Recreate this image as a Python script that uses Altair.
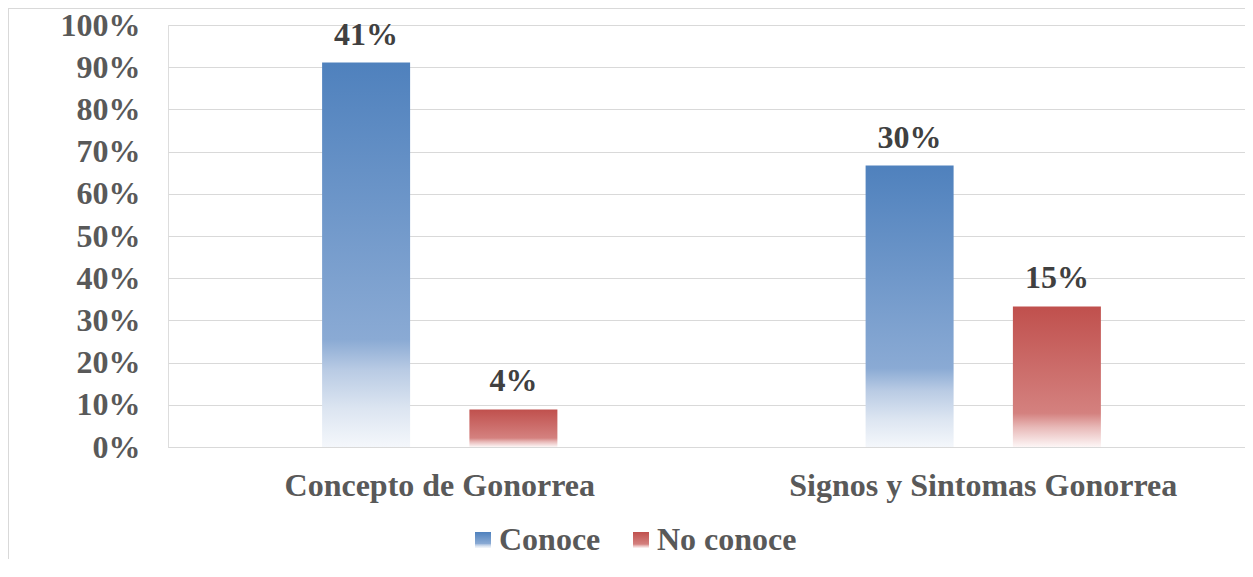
import altair as alt
import pandas as pd

# ---- data ----
categories = ["Concepto de Gonorrea", "Signos y Sintomas Gonorrea"]
series = ["Conoce", "No conoce"]
conoce_share = [0.911, 0.667]
no_conoce_share = [0.089, 0.333]
conoce_labels = ["41%", "30%"]
no_conoce_labels = ["4%", "15%"]
y_ticks = [0, 0.1, 0.2, 0.3, 0.4, 0.5, 0.6, 0.7, 0.8, 0.9, 1.0]

rows = []
for i, c in enumerate(categories):
    rows.append({"categoria": c, "serie": series[0], "valor": conoce_share[i], "etiqueta": conoce_labels[i]})
    rows.append({"categoria": c, "serie": series[1], "valor": no_conoce_share[i], "etiqueta": no_conoce_labels[i]})
df = pd.DataFrame(rows)

FONT = "Liberation Serif"
FS = 32
GRID = "#D9D9D9"


def grad_expr(stops):
    s = ", ".join("{offset: %s, color: '%s'}" % (o, c) for o, c in stops)
    return "{gradient: 'linear', x1: 0, y1: 0, x2: 0, y2: 1, stops: [%s]}" % s


blue = grad_expr([(0, "#4F81BD"), (0.72, "#8AAAD4"), (0.8, "#B9CBE4"), (0.9, "#DCE5F1"), (1, "#F4F7FB")])
red = grad_expr([(0, "#C0504D"), (0.76, "#D4817F"), (0.86, "#E8B9B8"), (1, "#FDF6F6")])

x = alt.X(
    "categoria:N",
    sort=categories,
    scale=alt.Scale(paddingInner=0, paddingOuter=0, range=[0, 1087]),
    axis=alt.Axis(
        title=None, labelAngle=0, labelFont=FONT, labelFontSize=FS, labelFontWeight="bold",
        labelColor="#595959", labelPadding=23, ticks=False, domainColor=GRID, labelLimit=0,
        grid=False,
    ),
)
xo = alt.XOffset("serie:N", sort=series, scale=alt.Scale(paddingInner=0, paddingOuter=0.845))
y = alt.Y(
    "valor:Q",
    scale=alt.Scale(domain=[0, 1]),
    axis=alt.Axis(
        title=None, format=".0%", values=y_ticks, labelFont=FONT, labelFontSize=FS,
        labelFontWeight="bold", labelColor="#595959", labelPadding=28, ticks=False,
        domain=False, grid=True, gridColor=GRID, gridWidth=1,
    ),
)

bars = alt.Chart(df).mark_bar(width=88).encode(
    x=x,
    xOffset=xo,
    y=y,
    color=alt.Color(
        "serie:N",
        sort=series,
        scale=alt.Scale(domain=series, range=[alt.ExprRef(expr=blue), alt.ExprRef(expr=red)]),
        legend=alt.Legend(
            title=None, orient="none", legendX=299, legendY=499, direction="horizontal",
            symbolType="square", symbolSize=256, symbolStrokeWidth=0,
            labelFont=FONT, labelFontSize=FS, labelFontWeight="bold", labelColor="#595959",
            labelOffset=0, columnPadding=24, labelLimit=0,
        ),
    ),
)

text = alt.Chart(df).mark_text(
    font=FONT, fontSize=FS, fontWeight="bold", color="#404040", baseline="alphabetic", dy=-18
).encode(x=x, xOffset=xo, y=y, text="etiqueta:N")

frame_df = pd.DataFrame({"k": [0]})
frame_left = alt.Chart(frame_df).mark_rule(color=GRID, strokeWidth=1).encode(
    x=alt.value(-159.5), y=alt.value(-17), y2=alt.value(540)
)
frame_top = alt.Chart(frame_df).mark_rule(color=GRID, strokeWidth=1).encode(
    x=alt.value(-160), x2=alt.value(1085), y=alt.value(-16.5)
)

chart = (
    alt.layer(bars, text, frame_left, frame_top)
    .properties(
        width=1077,
        height=422,
        autosize=alt.AutoSizeParams(type="none"),
        padding={"left": 160, "top": 17, "right": 0, "bottom": 112},
    )
    .configure_view(stroke=None)
    .configure(background="white")
)

chart.save("out.html", embed_options={"renderer": "svg", "actions": False})
